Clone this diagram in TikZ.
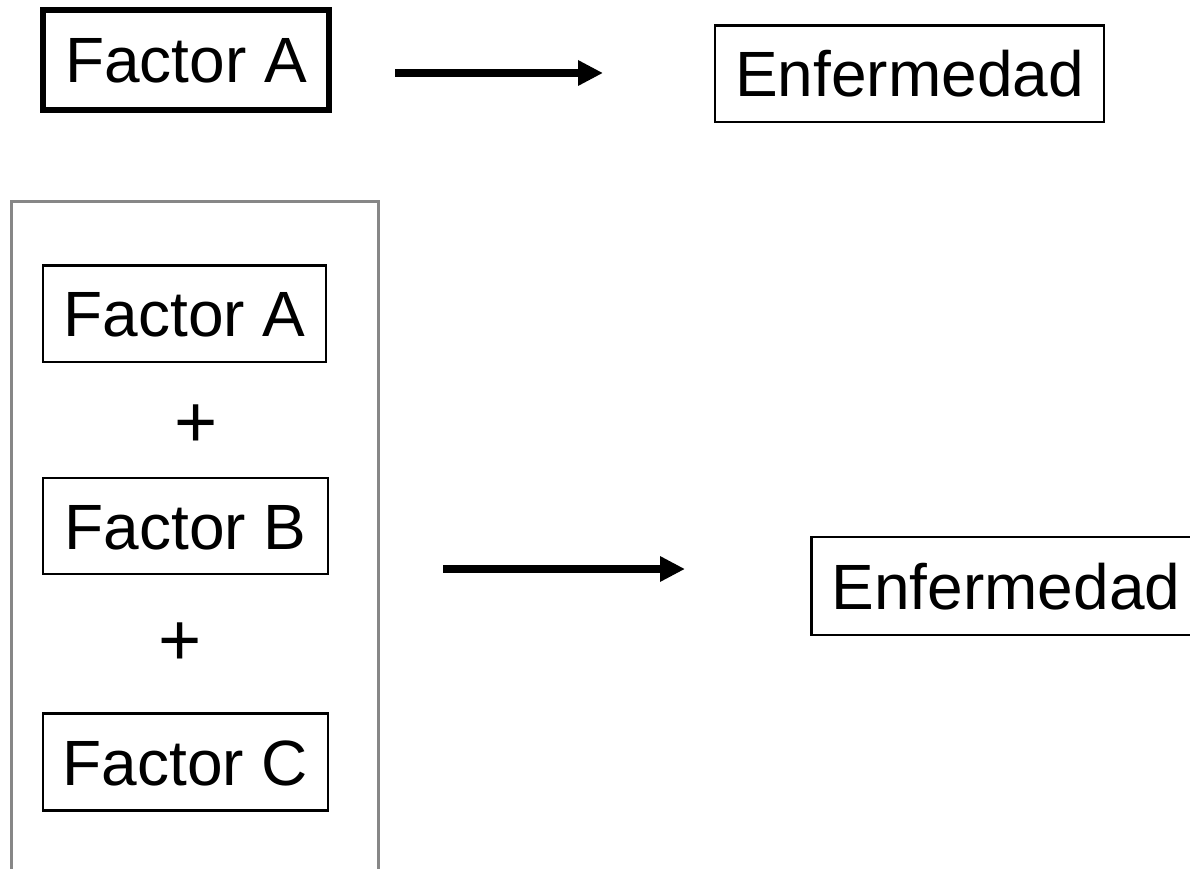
\documentclass[tikz,border=0pt]{standalone}
\usepackage{fontspec}
\setmainfont{Liberation Sans}
\usetikzlibrary{arrows.meta}

\tikzset{
  label text/.style={font=\fontsize{64}{64}\selectfont, inner sep=0pt,
    text height=46pt, text depth=0pt},
  thinbox/.style={label text, draw=black, line width=2.6pt},
  thickbox/.style={label text, draw=black, line width=6pt},
  plus sign/.style={font=\fontsize{74}{74}\selectfont, inner sep=0pt, anchor=base},
  causes/.style={line width=7.6pt, -{Triangle[length=25pt,width=24pt]}},
  group frame/.style={draw=black!47, line width=2.7pt}
}

\begin{document}
\begin{tikzpicture}[x=1pt, y=-1pt]
  \useasboundingbox (0,0) rectangle (1190,869);
  \fill[white] (0,0) rectangle (1190,869);

  % single cause
  \node[thickbox, minimum width=286pt, minimum height=100pt] (fa1) at (186,60) {Factor A};
  \node[thinbox, minimum width=389pt, minimum height=96.5pt] (enf1) at (909.5,73.8) {Enfermedad};
  \coordinate (arr1s) at (395,73);
  \coordinate (arr1e) at (603,73);
  \draw[causes] (arr1s) -- (arr1e);

  % combined causes, grouped in a frame that runs off the bottom edge
  \draw[group frame] (11.3,890) -- (11.3,201.3) -- (378.5,201.3) -- (378.5,890);
  \node[thinbox, minimum width=283pt, minimum height=96.5pt] (fa2) at (184.6,313.7) {Factor A};
  \node[plus sign] (p1) at (196,447) {+};
  \node[thinbox, minimum width=285pt, minimum height=96pt] (fb) at (185.5,526) {Factor B};
  \node[plus sign] (p2) at (180,665.4) {+};
  \node[thinbox, minimum width=285pt, minimum height=97pt] (fc) at (185.5,762) {Factor C};

  \coordinate (arr2s) at (443,569);
  \coordinate (arr2e) at (685,569);
  \draw[causes] (arr2s) -- (arr2e);
  \node[thinbox, minimum width=389pt, minimum height=98pt] (enf2) at (1006,586) {Enfermedad};
\end{tikzpicture}
\end{document}
